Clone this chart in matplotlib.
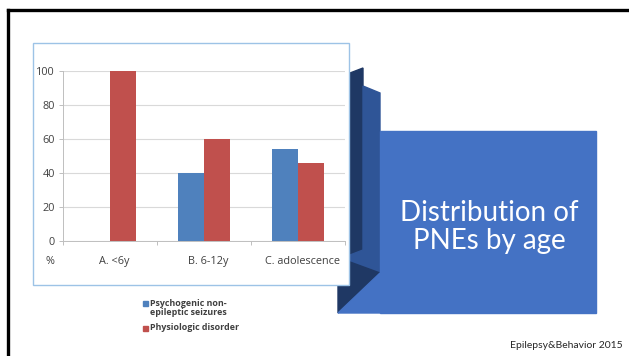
import numpy as np
import matplotlib.pyplot as plt
from matplotlib.patches import Polygon, Rectangle

# PNE distribution by age group (%)
groups = ["A. <6y", "B. 6-12y", "C. adolescence"]
pnes = [0, 40, 54]
physio = [100, 60, 46]
series_names = ["Psychogenic non-\nepileptic seizures", "Physiologic disorder"]
yticks = [0, 20, 40, 60, 80, 100]

W, H = 629, 356
fig = plt.figure(figsize=(W / 100, H / 100), dpi=100)

# slide layer in pixel coordinates
bg = fig.add_axes([0, 0, 1, 1])
bg.set_xlim(0, W)
bg.set_ylim(H, 0)
bg.axis("off")

# slide border (top and left edges)
bg.plot([8, W], [10, 10], color="black", lw=2.4, solid_capstyle="projecting")
bg.plot([8, 8], [10, H], color="black", lw=2.4, solid_capstyle="projecting")

dark = "#1f3864"
mid = "#2f5597"
main = "#4472c4"
bg.add_patch(Polygon([(350, 73), (363, 68), (363, 250), (350, 255)], color=dark, zorder=2))
bg.add_patch(Polygon([(363, 86), (380, 93), (380, 273), (350, 262), (350, 255), (363, 250)],
                     color=mid, zorder=2))
bg.add_patch(Polygon([(338, 262), (350, 262), (380, 273), (338, 313)], color=dark, zorder=2))
bg.add_patch(Polygon([(380, 273), (338, 313), (380, 313)], color=main, zorder=2))
bg.add_patch(Rectangle((380, 131), 216, 182, color=main, zorder=2))
bg.text(489, 227, "Distribution of\nPNEs by age", color="white", family="Lato",
        fontsize=20, ha="center", va="center", linespacing=1.1, zorder=3)
bg.text(623, 345, "Epilepsy&Behavior 2015", color="#262626", family="Lato",
        fontsize=7.5, ha="right", va="center")

# chart frame
bg.add_patch(Rectangle((33, 43), 316, 242, facecolor="white", edgecolor="#9dc3e6",
                       lw=1.0, zorder=4))

# legend below the frame
blue = "#4f81bd"
red = "#c0504d"
txt = "#404040"
bg.add_patch(Rectangle((143, 301), 4.5, 4.5, color=blue, zorder=5))
bg.add_patch(Rectangle((143, 326), 4.5, 4.5, color=red, zorder=5))
bg.text(150, 298.5, series_names[0], family="Open Sans", fontsize=6.4, fontweight="bold",
        color=txt, va="top", ha="left", linespacing=1.05, zorder=5)
bg.text(150, 328, series_names[1], family="Open Sans", fontsize=6.4, fontweight="bold",
        color=txt, va="center", ha="left", zorder=5)

# bar chart
ax = fig.add_axes([63 / W, (H - 241) / H, 282 / W, 170 / H], zorder=6)
ax.patch.set_alpha(0)
x = np.arange(len(groups))
w = 0.28
ax.bar(x - w / 2, pnes, w, color=blue, zorder=3)
ax.bar(x + w / 2, physio, w, color=red, zorder=3)
ax.set_xlim(-0.5, 2.5)
ax.set_ylim(0, 100)
ax.set_yticks(yticks)
ax.set_yticklabels([str(v) for v in yticks], family="Open Sans", fontsize=7.8, color=txt)
ax.grid(axis="y", color="#d9d9d9", lw=0.8, zorder=0)
ax.set_xticks([-0.5, 0.5, 1.5, 2.5])
ax.set_xticklabels([])
ax.tick_params(axis="x", length=3, color="#bfbfbf", width=0.7)
ax.tick_params(axis="y", length=3, color="#bfbfbf", width=0.7, pad=3)
for i, g in enumerate(groups):
    ax.text(i + 0.05, -12, g, family="Open Sans", fontsize=7.8, color=txt,
            ha="center", va="center", clip_on=False)
ax.text(-0.64, -12, "%", family="Open Sans", fontsize=7.8, color=txt,
        ha="center", va="center", clip_on=False)
for s in ["top", "right"]:
    ax.spines[s].set_visible(False)
ax.spines["left"].set_color("#bfbfbf")
ax.spines["bottom"].set_color("#bfbfbf")
ax.spines["left"].set_linewidth(0.7)
ax.spines["bottom"].set_linewidth(0.7)

fig.savefig("out.png", dpi=100)
